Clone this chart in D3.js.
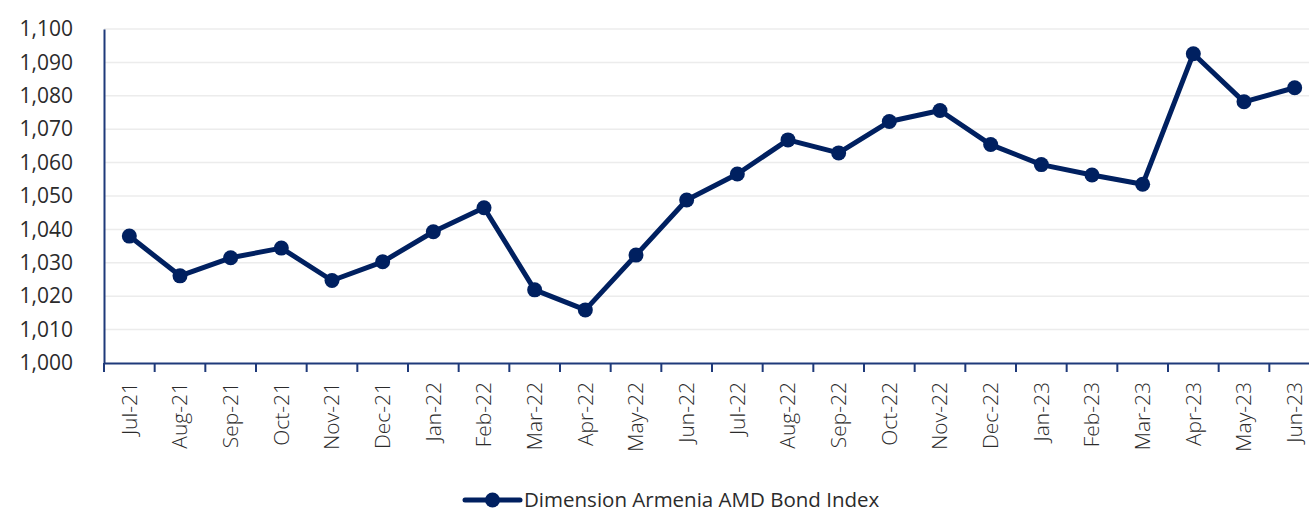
<!DOCTYPE html>
<html>
<head>
<meta charset="utf-8">
<title>Dimension Armenia AMD Bond Index</title>
<script src="https://d3js.org/d3.v7.min.js"></script>
<style>
  body { margin: 0; background: #fff; }
  #plot { width: 1309px; height: 512px; }
  text { font-family: "Open Sans", "Noto Sans", sans-serif; fill: #2b2b2b; }
</style>
</head>
<body>
<div id="plot"></div>
<script>
// months shown on the x axis
var months = ['Jul-21','Aug-21','Sep-21','Oct-21','Nov-21','Dec-21','Jan-22','Feb-22','Mar-22','Apr-22','May-22','Jun-22',
              'Jul-22','Aug-22','Sep-22','Oct-22','Nov-22','Dec-22','Jan-23','Feb-23','Mar-23','Apr-23','May-23','Jun-23']
// index values
var indexValues = [1038.0, 1026.1, 1031.5, 1034.4, 1024.7, 1030.3, 1039.3, 1046.5, 1021.9, 1015.9, 1032.3, 1048.8,
                   1056.6, 1066.8, 1062.9, 1072.3, 1075.6, 1065.4, 1059.4, 1056.3, 1053.5, 1092.6, 1078.2, 1082.4]
var yTicks = [1000, 1010, 1020, 1030, 1040, 1050, 1060, 1070, 1080, 1090, 1100]
var seriesName = 'Dimension Armenia AMD Bond Index'

var navy = '#002060'
var axisBlue = '#1f3a7a'

var svg = d3.select('#plot').append('svg')
    .attr('width', 1309)
    .attr('height', 512)

var x = d3.scaleBand().domain(months).range([104, 1320]).padding(0)
var y = d3.scaleLinear().domain([1000, 1100]).range([363, 29])

// gridlines
svg.append('g').selectAll('line')
    .data(yTicks.slice(1))
    .enter().append('line')
      .attr('x1', 104).attr('x2', 1320)
      .attr('y1', function(d){ return y(d) })
      .attr('y2', function(d){ return y(d) })
      .attr('stroke', '#ececec')
      .attr('stroke-width', 1.5)

// y axis
var yAxis = svg.append('g')
    .attr('transform', 'translate(104,0)')
    .call(d3.axisLeft(y).tickValues(yTicks).tickSize(0).tickPadding(31).tickFormat(d3.format(',')))
yAxis.select('.domain').attr('stroke', axisBlue).attr('stroke-width', 2)
yAxis.selectAll('text').style('font-size', '21px').attr('fill', '#333')

// x axis, ticks sit between categories
var xAxis = svg.append('g')
    .attr('transform', 'translate(0,363)')
    .call(d3.axisBottom(x).tickSize(0).tickSizeOuter(0))
xAxis.select('.domain').attr('stroke', axisBlue).attr('stroke-width', 2)
xAxis.selectAll('.tick text')
    .style('font-size', '21px')
    .style('font-weight', 300)
    .attr('fill', '#222')
    .attr('text-anchor', 'end')
    .attr('transform', 'rotate(-90)')
    .attr('x', -19)
    .attr('y', 0)
    .attr('dy', '0.35em')
svg.append('g').selectAll('line')
    .data(months)
    .enter().append('line')
      .attr('x1', function(d){ return x(d) })
      .attr('x2', function(d){ return x(d) })
      .attr('y1', 363).attr('y2', 372)
      .attr('stroke', axisBlue)
      .attr('stroke-width', 2)

// series line + markers
var pts = months.map(function(m, i){ return {m: m, v: indexValues[i]} })
var line = d3.line()
    .x(function(d){ return x(d.m) + x.bandwidth()/2 })
    .y(function(d){ return y(d.v) })

svg.append('path')
    .datum(pts)
    .attr('d', line)
    .attr('fill', 'none')
    .attr('stroke', navy)
    .attr('stroke-width', 5)
    .attr('stroke-linejoin', 'round')

svg.append('g').selectAll('circle')
    .data(pts)
    .enter().append('circle')
      .attr('cx', function(d){ return x(d.m) + x.bandwidth()/2 })
      .attr('cy', function(d){ return y(d.v) })
      .attr('r', 7.5)
      .attr('fill', navy)

// legend
var legend = svg.append('g').attr('transform', 'translate(465,500)')
legend.append('line')
    .attr('x1', 0).attr('x2', 55).attr('y1', 0).attr('y2', 0)
    .attr('stroke', navy).attr('stroke-width', 5).attr('stroke-linecap', 'round')
legend.append('circle').attr('cx', 27.5).attr('cy', 0).attr('r', 7.5).attr('fill', navy)
legend.append('text')
    .attr('x', 59).attr('y', 0).attr('dy', '0.35em')
    .style('font-size', '20.5px')
    .text(seriesName)
</script>
</body>
</html>
